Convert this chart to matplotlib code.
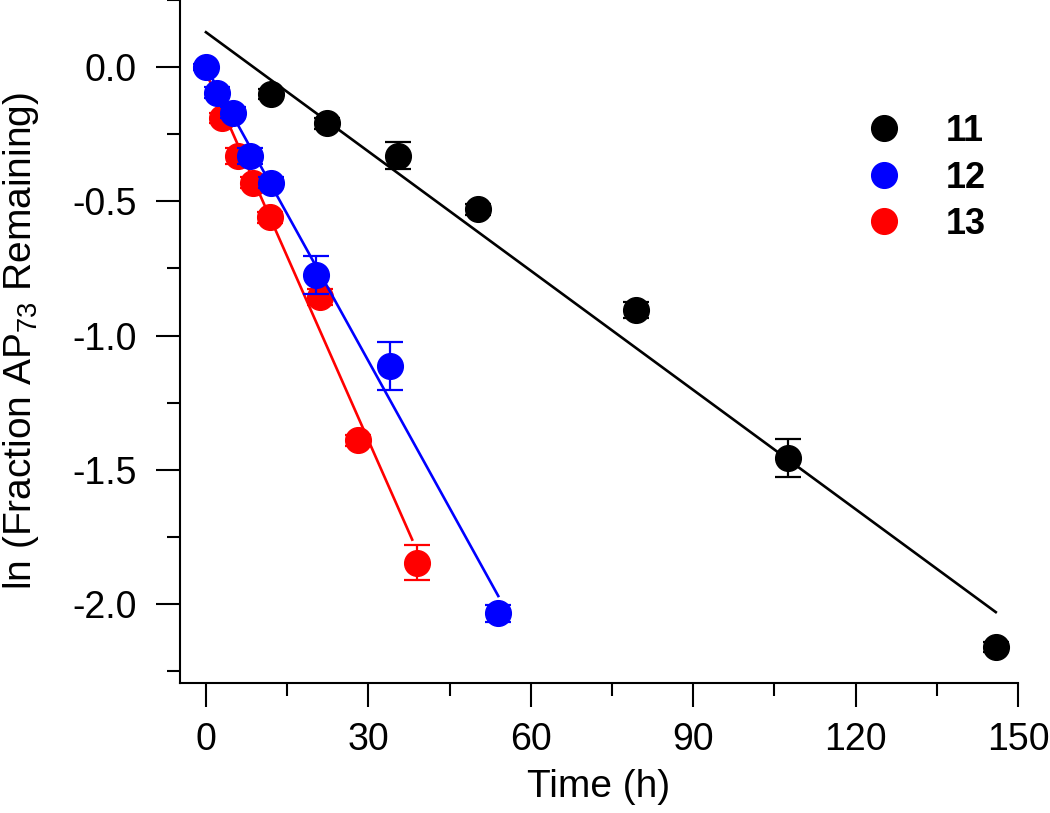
import matplotlib
matplotlib.use("Agg")
import matplotlib.pyplot as plt
from matplotlib.lines import Line2D
from matplotlib.ticker import MultipleLocator

plt.rcParams['font.family'] = ['Liberation Sans', 'DejaVu Sans']

# compound 11 (black)
t11 = [12.0, 22.4, 35.5, 50.2, 79.4, 107.5, 145.9]
y11 = [-0.10, -0.21, -0.33, -0.53, -0.905, -1.456, -2.16]
e11 = [0.02, 0.02, 0.05, 0.02, 0.03, 0.07, 0.02]
fit11_t = [0.0, 145.9]
fit11_y = [0.13, -2.03]

# compound 12 (blue)
t12 = [0.0, 2.0, 5.0, 8.1, 12.1, 20.4, 34.0, 54.0]
y12 = [0.0, -0.095, -0.17, -0.33, -0.43, -0.775, -1.114, -2.035]
e12 = [0.01, 0.02, 0.02, 0.03, 0.02, 0.07, 0.09, 0.03]
fit12_t = [0.0, 54.0]
fit12_y = [0.0, -1.97]

# compound 13 (red)
t13 = [2.9, 6.0, 8.7, 11.8, 21.1, 28.0, 38.9]
y13 = [-0.19, -0.33, -0.43, -0.56, -0.855, -1.39, -1.846]
e13 = [0.02, 0.03, 0.02, 0.02, 0.03, 0.02, 0.065]
fit13_t = [0.0, 38.1]
fit13_y = [-0.02, -1.76]

labels = ['11', '12', '13']
colors = ['black', '#0000ff', '#ff0000']

fig = plt.figure(figsize=(10.5, 8.13), dpi=100)
ax = fig.add_axes([0.1714, 0.1599, 0.7981, 0.8401])

ms = 18.5
cap = 9.4
series = [
    (t11, y11, e11, fit11_t, fit11_y, colors[0], 3),
    (t13, y13, e13, fit13_t, fit13_y, colors[2], 4),
    (t12, y12, e12, fit12_t, fit12_y, colors[1], 5),
]
for t, y, e, ft, fy, c, z in series:
    ax.plot(ft, fy, color=c, lw=1.9, zorder=z)
    ax.errorbar(t, y, yerr=e, fmt='o', color=c, ms=ms, mec=c,
                capsize=cap, capthick=1.6, elinewidth=1.6, zorder=z)

ax.set_xlim(-4.8, 150)
ax.set_ylim(-2.294, 0.25)
ax.xaxis.set_major_locator(MultipleLocator(30))
ax.xaxis.set_minor_locator(MultipleLocator(15))
ax.yaxis.set_major_locator(MultipleLocator(0.5))
ax.yaxis.set_minor_locator(MultipleLocator(0.25))
ax.yaxis.set_major_formatter(matplotlib.ticker.FormatStrFormatter('%.1f'))

for s in ['top', 'right']:
    ax.spines[s].set_visible(False)
for s in ['left', 'bottom']:
    ax.spines[s].set_linewidth(1.5)

ax.tick_params(which='both', direction='out', width=1.5, labelsize=27)
ax.tick_params(which='major', length=17.3)
ax.tick_params(which='minor', length=9.4)
ax.tick_params(axis='x', which='major', pad=11)
ax.tick_params(axis='y', which='major', pad=14)

ax.set_xlabel('Time (h)', fontsize=28, labelpad=8)
ax.set_ylabel(r'ln (Fraction AP$\mathregular{_{73}}$ Remaining)', fontsize=28, labelpad=22)

handles = [Line2D([], [], ls='none', marker='o', ms=ms, color=c) for c in colors]
ax.legend(handles, labels, loc='upper left', bbox_to_anchor=(866 / 1050, 1 - 114 / 813),
          bbox_transform=fig.transFigure, frameon=False, borderpad=0, borderaxespad=0,
          handlelength=1.0, handletextpad=1.2, labelspacing=0.32,
          prop={'size': 26, 'weight': 'bold'})

fig.savefig('out.png', dpi=100)
